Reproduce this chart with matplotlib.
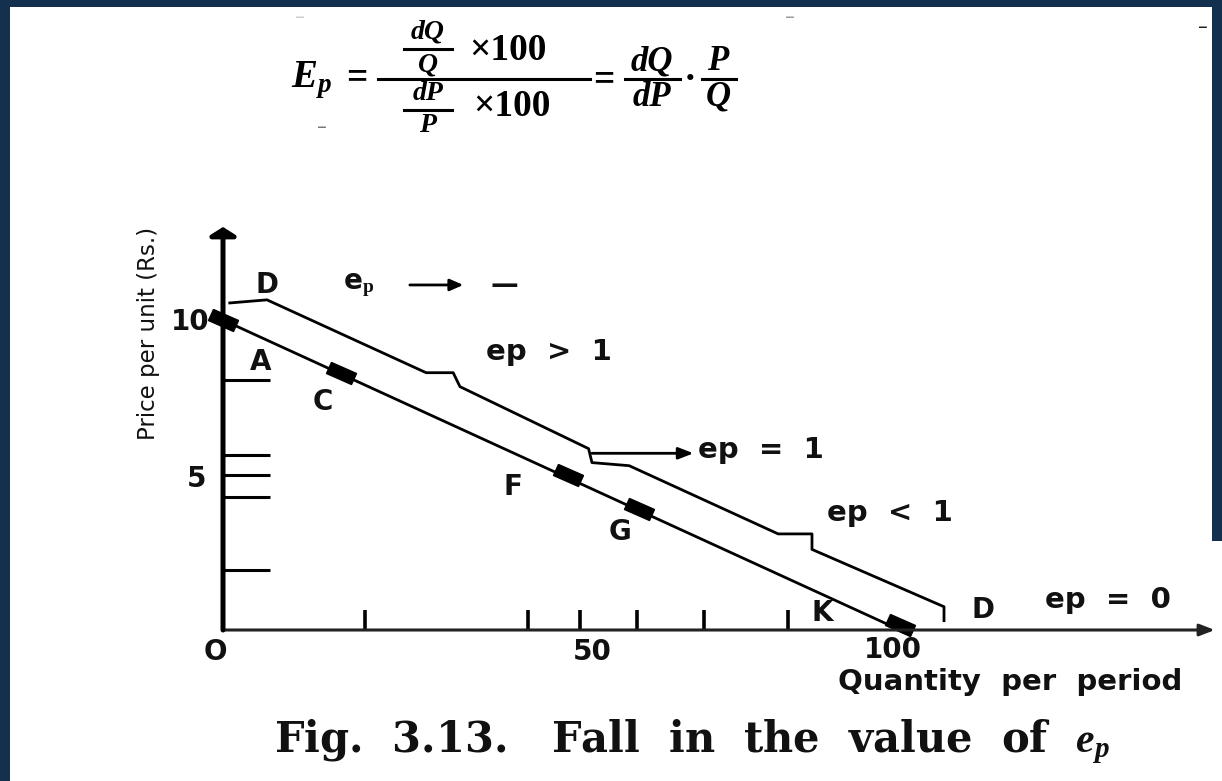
import numpy as np
import matplotlib.pyplot as plt
from matplotlib.markers import MarkerStyle
from matplotlib.transforms import Affine2D
from matplotlib.patches import Rectangle
from matplotlib.lines import Line2D

plt.rcParams['mathtext.fontset'] = 'custom'
plt.rcParams['mathtext.rm'] = 'Liberation Serif:bold'
plt.rcParams['mathtext.it'] = 'Liberation Serif:italic:bold'
plt.rcParams['mathtext.bf'] = 'Liberation Serif:bold'

# lower demand line (P = 10 - Q/10) and the marked points on it
demand_q = [0, 100]
demand_p = [10, 0]
point_q = [0, 17.5, 51, 61.5, 100]
point_p = [10, 8.3, 5.0, 3.9, 0.15]

# upper line with the little notches where the elasticity zones change
upper_q = [1, 6.5, 30, 34, 35, 54, 54.5, 60, 82, 87, 87, 106.5, 106.5]
upper_p = [10.55, 10.65, 8.3, 8.3, 7.85, 5.85, 5.4, 5.3, 3.1, 3.1, 2.6, 0.75, 0.3]

# short tick marks on both axes
x_marks = [21, 45, 52.7, 61.2, 71, 83.5]
y_marks = [8.05, 5.65, 5.0, 4.3, 1.95]

W, H = 1222, 781
navy = "#13304e"
fig = plt.figure(figsize=(W / 100, H / 100), dpi=100)
fig.patch.set_facecolor(navy)


def fx(x, y):
    # pixel position (from top-left) -> figure fraction
    return x / W, 1 - y / H


# white page inside the dark frame
fig.add_artist(Rectangle((10 / W, 0), 1202 / W, 1 - 7 / H,
                         transform=fig.transFigure, facecolor="white",
                         edgecolor="none", zorder=-10))
fig.add_artist(Rectangle((1200 / W, 0), 22 / W, 240 / H,
                         transform=fig.transFigure, facecolor="white",
                         edgecolor="none", zorder=-10))

ax = fig.add_axes([0, 0, 1, 1])
ax.patch.set_alpha(0)
ax.set_xlim(-223 / 6.77, (W - 223) / 6.77)
ax.set_ylim((630 - H) / 31, 630 / 31)
ax.axis("off")

# axes with arrows
ax.annotate("", xy=(146.5, 0), xytext=(0, 0),
            arrowprops=dict(arrowstyle="-|>,head_length=0.9,head_width=0.35",
                            color="#222222", lw=2.2, shrinkA=0, shrinkB=0))
ax.annotate("", xy=(0, 13.0), xytext=(0, 0),
            arrowprops=dict(arrowstyle="-|>,head_length=0.5,head_width=0.8",
                            color="black", lw=3.6, shrinkA=0, shrinkB=0))

for q in x_marks:
    ax.plot([q, q], [0, 0.65], color="black", lw=2.6, solid_capstyle="butt")
for p in y_marks:
    ax.plot([0, 7], [p, p], color="black", lw=2.2, solid_capstyle="butt")

# the two lines
ax.plot(demand_q, demand_p, color="black", lw=2.0)
ax.plot(upper_q, upper_p, color="black", lw=2.0)

blob = MarkerStyle("s", transform=Affine2D().scale(2.2, 0.95).rotate_deg(-24))
ax.plot(point_q, point_p, linestyle="none", marker=blob, ms=9, color="black")

# arrows for e_p -> and e_p = 1
ax.annotate("", xy=(35.5, 11.13), xytext=(27.6, 11.13),
            arrowprops=dict(arrowstyle="-|>,head_length=0.8,head_width=0.35",
                            color="black", lw=2.0, shrinkA=0, shrinkB=0))
ax.annotate("", xy=(69.5, 5.7), xytext=(54.5, 5.7),
            arrowprops=dict(arrowstyle="-|>,head_length=0.9,head_width=0.35",
                            color="black", lw=2.0, shrinkA=0, shrinkB=0))

lab = dict(fontsize=20, fontweight="bold", color="#111111",
           ha="center", va="center", family="DejaVu Sans")
labels = [("10", -4.9, 9.94), ("5", -3.9, 4.87), ("O", -1.2, -0.71),
          ("50", 54.5, -0.71), ("100", 99, -0.65),
          ("D", 6.5, 11.13), ("A", 5.6, 8.65), ("C", 14.8, 7.35),
          ("F", 42.8, 4.61), ("G", 58.6, 3.16), ("K", 88.5, 0.55),
          ("D", 112.3, 0.65), ("—", 41.5, 11.13)]
for txt, q, p in labels:
    ax.text(q, p, txt, **lab)

ax.text(20, 11.13, r"e$_{\mathbf{p}}$", **lab)
ep = dict(lab, fontsize=21)
ax.text(48.2, 8.97, "ep  >  1", **ep)
ax.text(79.5, 5.8, "ep  =  1", **ep)
ax.text(98.5, 3.77, "ep  <  1", **ep)
ax.text(130.7, 0.97, "ep  =  0", **ep)

# axis titles
fig.text(*fx(148, 333), "Price per unit (Rs.)", rotation=90,
         ha="center", va="center", fontsize=16.5, color="#111111",
         family="DejaVu Sans")
fig.text(*fx(1010, 682), "Quantity  per  period", ha="center",
         va="center", fontsize=21, fontweight="bold", color="#111111",
         family="DejaVu Sans")

# formula, laid out piece by piece like the printed one
it = dict(family="Liberation Serif", style="italic", fontweight="bold",
          fontsize=25, ha="center", va="center", color="black")
small = dict(it, fontsize=20)
rm = dict(it, style="normal", fontsize=27)
fig.text(*fx(312, 80), r"$E_p$", fontsize=28, ha="center", va="center")
fig.text(*fx(357, 78), "=", **rm)
fig.text(*fx(428, 32), "dQ", **small)
fig.text(*fx(428, 65), "Q", **small)
fig.text(*fx(508, 50), "×100", **rm)
fig.text(*fx(428, 94), "dP", **small)
fig.text(*fx(428, 125), "P", **small)
fig.text(*fx(512, 106), "×100", **rm)
fig.text(*fx(604, 80), "=", **rm)
fig.text(*fx(652, 62), "dQ", **it)
fig.text(*fx(652, 97), "dP", **it)
fig.text(*fx(690, 80), "·", **rm)
fig.text(*fx(718, 62), "P", **it)
fig.text(*fx(718, 97), "Q", **it)
for x0, x1, y in [(378, 590, 79), (404, 452, 49), (404, 452, 110),
                  (625, 680, 79), (702, 736, 79)]:
    (a, b), (c, d) = fx(x0, y), fx(x1, y)
    fig.add_artist(Line2D([a, c], [b, d], transform=fig.transFigure,
                          color="black", lw=2.2))

# caption
fig.text(*fx(692, 742), r"Fig.  3.13.   Fall  in  the  value  of  $e_p$",
         ha="center", va="center", fontsize=30, fontweight="bold",
         color="#111111", family="DejaVu Serif")

# faint scan marks
for x, y, c in [(1203, 28, "#222222"), (790, 18, "#999999"),
                (322, 127, "#777777"), (300, 18, "#cccccc")]:
    fig.text(*fx(x, y), "–", ha="center", va="center", fontsize=14, color=c)

fig.savefig("out.png", dpi=100, facecolor=fig.get_facecolor())
